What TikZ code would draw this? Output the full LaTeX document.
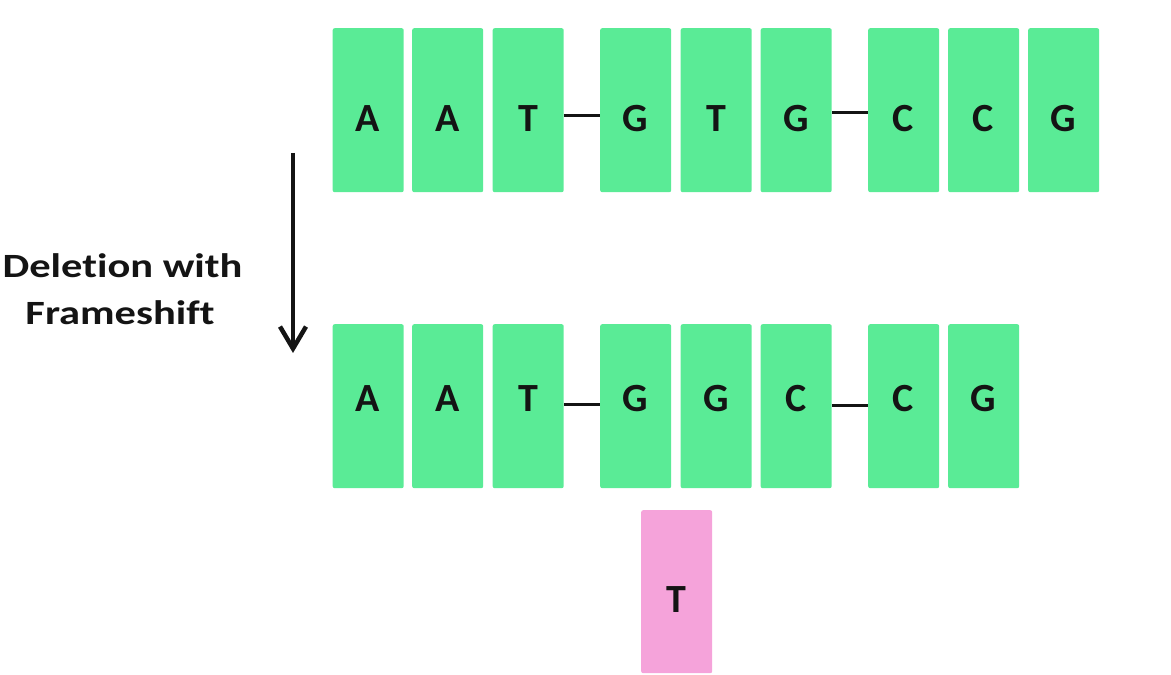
\documentclass[tikz,border=0pt]{standalone}
\usepackage{fontspec}
\setmainfont{Carlito}
\newfontfamily\labfont{Carlito}[Ligatures=NoCommon]
\usetikzlibrary{arrows.meta}
\definecolor{boxgreen}{HTML}{5AEB96}
\definecolor{boxpink}{HTML}{F5A3DA}
\definecolor{ink}{HTML}{141414}
\begin{document}
\begin{tikzpicture}[x=1pt,y=1pt,
 basebox/.style={rectangle, rounded corners=2pt, minimum width=71pt, minimum height=164pt, inner sep=0pt, anchor=north west},
 gbox/.style={basebox, fill=boxgreen},
 pbox/.style={basebox, fill=boxpink, minimum height=163pt},
 letter/.style={font=\fontsize{40}{40}\selectfont\bfseries, text=ink, inner sep=0pt},
 link/.style={draw=ink, line width=3.2pt},
 lab/.style={font=\labfont\fontsize{34}{40}\selectfont\bfseries, text=ink, anchor=base, inner sep=0pt, xscale=1.25},
 arr/.style={draw=ink, line width=4.5pt, -{Straight Barb[length=22pt,width=26pt]}}]
\useasboundingbox (0,0) rectangle (1171,675);
% top row
\foreach \x/\l [count=\i] in {332.5/A,412/A,492.5/T,600/G,680.5/T,760.5/G,868/C,948/C,1028/G}{
  \node[gbox] (t\i) at (\x,647) {};
  \node[letter] (tl\i) at (\x+35.5,556) {\l};
}
% bottom row
\foreach \x/\l [count=\i] in {332.5/A,412/A,492.5/T,600/G,680.5/G,760.5/C,868/C,948/G}{
  \node[gbox] (b\i) at (\x,351) {};
  \node[letter] (bl\i) at (\x+35.5,276) {\l};
}
% deleted base
\node[pbox] (p) at (641,165) {};
\node[letter] (pl) at (676,75.5) {T};
% links
\draw[link] ([yshift=-5pt]t3.east) -- ([yshift=-5pt]t4.west);
\draw[link] ([yshift=-2pt]t6.east) -- ([yshift=-2pt]t7.west);
\draw[link] ([yshift=2pt]b3.east) -- ([yshift=2pt]b4.west);
\draw[link] ([yshift=1pt]b6.east) -- ([yshift=1pt]b7.west);
% arrow
\coordinate (a1) at (293,522);
\coordinate (a2) at (293,322);
\draw[arr] (a1) -- (a2);
% label
\node[lab] (l1) at (122.5,397) {Deletion with};
\node[lab] (l2) at (120,350) {Frameshift};
\end{tikzpicture}
\end{document}
